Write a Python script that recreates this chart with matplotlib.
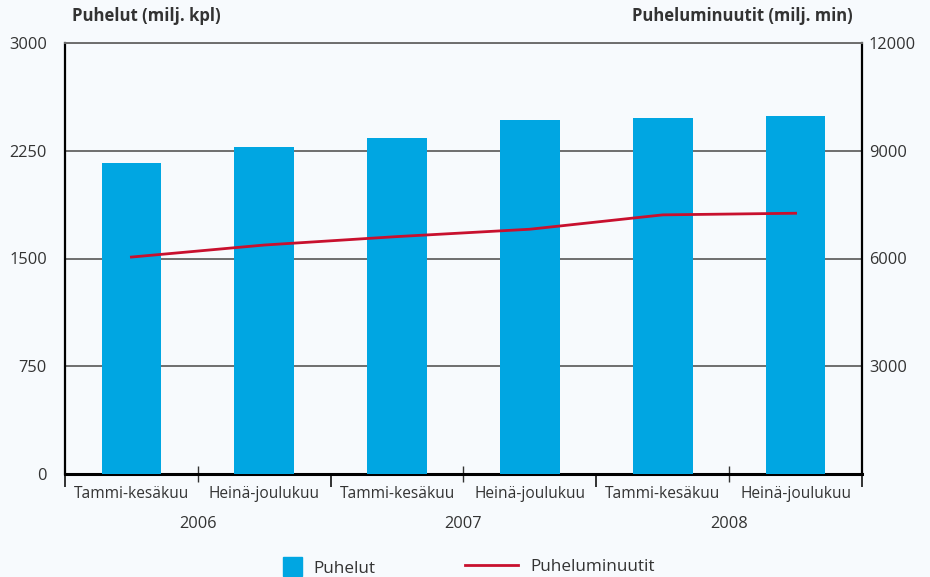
import numpy as np
import matplotlib.pyplot as plt
from matplotlib.patches import Patch
from matplotlib.lines import Line2D

plt.rcParams['font.family'] = ['Open Sans', 'DejaVu Sans']

# Data
periods = ['Tammi-kesäkuu', 'Heinä-joulukuu'] * 3
years = ['2006', '2007', '2008']
puhelut = [2165, 2276, 2338, 2463, 2477, 2491]          # milj. kpl (left axis)
minuutit = [6040, 6375, 6610, 6815, 7215, 7260]         # milj. min (right axis)

bar_color = '#00a6e2'
line_color = '#c8102e'
txt = '#333333'
bg = '#f7fafd'

fig = plt.figure(figsize=(9.3, 5.77), dpi=100, facecolor=bg)
ax = fig.add_axes([65/930, 1 - 474/577, 797/930, 431/577], facecolor=bg)

x = np.arange(len(puhelut))
ax.bar(x, puhelut, width=0.45, color=bar_color, zorder=3)
ax.set_xlim(-0.5, 5.5)
ax.set_ylim(0, 3000)
ax.set_yticks([0, 750, 1500, 2250, 3000])
ax.yaxis.grid(True, color='#6e6e6e', linewidth=1.4, zorder=1)
ax.tick_params(axis='y', length=0, pad=13, labelsize=11.8, labelcolor=txt)

# period labels + separator ticks
ax.set_xticks(x, labels=periods)
ax.set_xticks([0.5, 2.5, 4.5], minor=True)
ax.tick_params(axis='x', which='major', length=0, pad=9, labelsize=11.2, labelcolor=txt)
ax.tick_params(axis='x', which='minor', direction='inout', length=12, width=1, color='#333333')

for s in ['left', 'right']:
    ax.spines[s].set_color('black')
    ax.spines[s].set_linewidth(1.6)
ax.spines['bottom'].set_color('black')
ax.spines['bottom'].set_linewidth(2.2)
ax.spines['top'].set_color('#6e6e6e')
ax.spines['top'].set_linewidth(1.4)

# year labels and year boundary ticks
sec = ax.secondary_xaxis('bottom')
sec.set_xticks([-0.5, 1.5, 3.5, 5.5], labels=['', '', '', ''])
sec.set_xticks([0.5, 2.5, 4.5], labels=years, minor=True)
sec.tick_params(which='major', direction='out', length=9.5, width=1.3, color='#222222')
sec.tick_params(which='minor', length=0, pad=30, labelsize=11.8, labelcolor=txt)
sec.spines['bottom'].set_visible(False)

# right axis with minutes
ax2 = ax.twinx()
ax2.plot(x, minuutit, color=line_color, linewidth=2.0, zorder=4)
ax2.set_ylim(0, 12000)
ax2.set_yticks([3000, 6000, 9000, 12000])
ax2.tick_params(axis='y', length=0, pad=5, labelsize=11.8, labelcolor=txt)
for s in ax2.spines.values():
    s.set_visible(False)

fig.text(72/930, 1 - 16/577, 'Puhelut (milj. kpl)', fontsize=12.1, fontweight='bold',
         color=txt, ha='left', va='center')
fig.text(853/930, 1 - 16/577, 'Puheluminuutit (milj. min)', fontsize=12.0, fontweight='bold',
         color=txt, ha='right', va='center')

# legend
fig.legend(handles=[Patch(color=bar_color, label='Puhelut')], loc='center left',
           bbox_to_anchor=(268/930, 1 - 567/577), frameon=False, fontsize=12.3,
           handlelength=1.1, handleheight=1.3, handletextpad=0.65, labelcolor=txt)
fig.legend(handles=[Line2D([], [], color=line_color, linewidth=2.0, label='Puheluminuutit')],
           loc='center left', bbox_to_anchor=(450/930, 1 - 567/577), frameon=False,
           fontsize=12.3, handlelength=3.1, handletextpad=0.7, labelcolor=txt)

fig.savefig('out.png', dpi=100, facecolor=bg)
